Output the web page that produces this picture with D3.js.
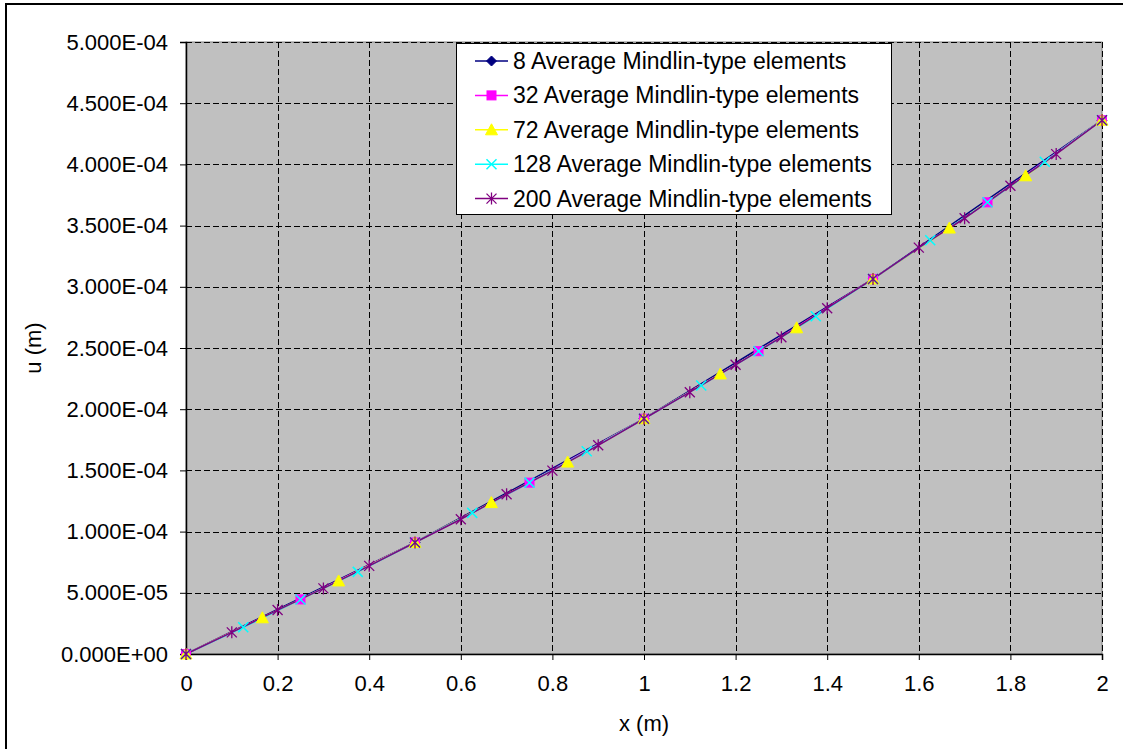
<!DOCTYPE html>
<html>
<head>
<meta charset="utf-8">
<script src="https://cdn.jsdelivr.net/npm/d3@7"></script>
<style>
  body { margin: 0; background: #fff; }
  svg { display: block; font-family: "Liberation Sans", Arial, sans-serif; }
</style>
</head>
<body>
<script>
// data
var seriesNames = [
  '8 Average Mindlin-type elements',
  '32 Average Mindlin-type elements',
  '72 Average Mindlin-type elements',
  '128 Average Mindlin-type elements',
  '200 Average Mindlin-type elements'
];

var x8 = [0, 0.5, 1, 1.5, 2];
var u8 = [0, 9.11e-5, 1.922e-4, 3.064e-4, 4.361e-4];

var x32 = [0, 0.25, 0.5, 0.75, 1, 1.25, 1.5, 1.75, 2];
var u32 = [0, 4.46e-5, 9.11e-5, 1.400e-4, 1.922e-4, 2.474e-4, 3.064e-4, 3.690e-4, 4.361e-4];

var x72 = [0, 0.1667, 0.3333, 0.5, 0.6667, 0.8333, 1, 1.1667, 1.3333, 1.5, 1.6667, 1.8333, 2];
var u72 = [0, 2.96e-5, 5.97e-5, 9.11e-5, 1.237e-4, 1.568e-4, 1.922e-4, 2.288e-4, 2.665e-4, 3.064e-4, 3.480e-4, 3.907e-4, 4.361e-4];

var x128 = [0, 0.125, 0.25, 0.375, 0.5, 0.625, 0.75, 0.875, 1, 1.125, 1.25, 1.375, 1.5, 1.625, 1.75, 1.875, 2];
var u128 = [0, 2.18e-5, 4.46e-5, 6.71e-5, 9.11e-5, 1.153e-4, 1.400e-4, 1.656e-4, 1.922e-4, 2.194e-4, 2.474e-4, 2.760e-4, 3.064e-4, 3.380e-4, 3.690e-4, 4.021e-4, 4.361e-4];

var x200 = [0, 0.1, 0.2, 0.3, 0.4, 0.5, 0.6, 0.7, 0.8, 0.9, 1, 1.1, 1.2, 1.3, 1.4, 1.5, 1.6, 1.7, 1.8, 1.9, 2];
var u200 = [0, 1.77e-5, 3.59e-5, 5.36e-5, 7.20e-5, 9.11e-5, 1.101e-4, 1.305e-4, 1.498e-4, 1.705e-4, 1.922e-4, 2.139e-4, 2.363e-4, 2.588e-4, 2.825e-4, 3.064e-4, 3.320e-4, 3.560e-4, 3.825e-4, 4.084e-4, 4.361e-4];

var xTickValues = [0, 0.2, 0.4, 0.6, 0.8, 1, 1.2, 1.4, 1.6, 1.8, 2];
var yTickValues = [0, 5e-5, 1e-4, 1.5e-4, 2e-4, 2.5e-4, 3e-4, 3.5e-4, 4e-4, 4.5e-4, 5e-4];

// ----------------------------------------------------------------------------
// styles per series
var seriesStyle = [
  { color: '#000080', symbol: 'diamond' },
  { color: '#FF00FF', symbol: 'square' },
  { color: '#FFFF00', symbol: 'triangle' },
  { color: '#00FFFF', symbol: 'cross' },
  { color: '#800080', symbol: 'star' }
];

var seriesData = [
  [x8, u8], [x32, u32], [x72, u72], [x128, u128], [x200, u200]
].map(function ( pair, i ) {
  return {
    name: seriesNames[i],
    style: seriesStyle[i],
    points: pair[0].map(function ( x, j ) { return { x: x, u: pair[1][j] }; })
  };
});

var width = 1123, height = 749;
var plot = { left: 186, top: 42, right: 1102, bottom: 654 };
var fontSize = '22px';

var svg = d3.select('body').append('svg')
  .attr('width', width)
  .attr('height', height);

// chart area border
svg.append('rect')
  .attr('x', 6).attr('y', 4)
  .attr('width', 1140).attr('height', 780)
  .attr('fill', '#fff')
  .attr('stroke', '#000')
  .attr('stroke-width', 2);

var xScale = d3.scaleLinear().domain([0, 2]).range([plot.left, plot.right]);
var yScale = d3.scaleLinear().domain([0, 5e-4]).range([plot.bottom, plot.top]);

// plot area
svg.append('rect')
  .attr('x', plot.left).attr('y', plot.top)
  .attr('width', plot.right - plot.left)
  .attr('height', plot.bottom - plot.top)
  .attr('fill', '#C0C0C0')
  .attr('stroke', '#808080')
  .attr('stroke-width', 1);

// grid
var grid = svg.append('g')
  .attr('stroke', '#000')
  .attr('stroke-width', 1)
  .attr('stroke-dasharray', '6,3')
  .attr('shape-rendering', 'crispEdges');

grid.selectAll('line.vx')
  .data(xTickValues.slice(1))
  .enter().append('line')
  .attr('class', 'vx')
  .attr('x1', function ( d ) { return Math.round(xScale(d)) + 0.5; })
  .attr('x2', function ( d ) { return Math.round(xScale(d)) + 0.5; })
  .attr('y1', plot.top)
  .attr('y2', plot.bottom);

grid.selectAll('line.hy')
  .data(yTickValues.slice(1))
  .enter().append('line')
  .attr('class', 'hy')
  .attr('y1', function ( d ) { return Math.round(yScale(d)) + 0.5; })
  .attr('y2', function ( d ) { return Math.round(yScale(d)) + 0.5; })
  .attr('x1', plot.left)
  .attr('x2', plot.right);

// axes
function sciFormat ( d ) {
  var s = d.toExponential(3).toUpperCase();
  var parts = s.split('E');
  var sign = parts[1].charAt(0);
  var exp = parts[1].slice(1);
  if ( exp.length < 2 ) exp = '0' + exp;
  return parts[0] + 'E' + sign + exp;
}

var xAxis = d3.axisBottom(xScale)
  .tickValues(xTickValues)
  .tickSize(6)
  .tickPadding(15)
  .tickFormat(function ( d ) { return String(+d.toFixed(1)); });

var yAxis = d3.axisLeft(yScale)
  .tickValues(yTickValues)
  .tickSize(6)
  .tickPadding(12)
  .tickFormat(sciFormat);

var gx = svg.append('g')
  .attr('transform', 'translate(0,' + plot.bottom + ')')
  .call(xAxis);

var gy = svg.append('g')
  .attr('transform', 'translate(' + plot.left + ',0)')
  .call(yAxis);

[gx, gy].forEach(function ( g ) {
  g.selectAll('text')
    .style('font-family', '"Liberation Sans", Arial, sans-serif')
    .style('font-size', fontSize)
    .attr('fill', '#000');
  g.selectAll('line').attr('stroke', '#000');
  g.select('.domain').attr('stroke', '#000').attr('stroke-width', 1.5);
});

// axis titles
svg.append('text')
  .attr('x', (plot.left + plot.right) / 2)
  .attr('y', 731)
  .attr('text-anchor', 'middle')
  .style('font-size', fontSize)
  .text('x (m)');

svg.append('text')
  .attr('transform', 'translate(41,' + (plot.top + plot.bottom) / 2 + ') rotate(-90)')
  .attr('text-anchor', 'middle')
  .style('font-size', fontSize)
  .text('u (m)');

// markers
function drawMarker ( g, symbol, color, cx, cy ) {
  if ( symbol === 'diamond' ) {
    g.append('path')
      .attr('d', 'M' + cx + ',' + (cy - 5) + 'L' + (cx + 5) + ',' + cy +
        'L' + cx + ',' + (cy + 5) + 'L' + (cx - 5) + ',' + cy + 'Z')
      .attr('fill', color).attr('stroke', color);
  } else if ( symbol === 'square' ) {
    g.append('rect')
      .attr('x', cx - 4.5).attr('y', cy - 4.5)
      .attr('width', 9).attr('height', 9)
      .attr('fill', color).attr('stroke', color);
  } else if ( symbol === 'triangle' ) {
    g.append('path')
      .attr('d', 'M' + cx + ',' + (cy - 6) + 'L' + (cx + 6) + ',' + (cy + 5) +
        'L' + (cx - 6) + ',' + (cy + 5) + 'Z')
      .attr('fill', color).attr('stroke', color);
  } else if ( symbol === 'cross' ) {
    g.append('path')
      .attr('d', 'M' + (cx - 5) + ',' + (cy - 5) + 'L' + (cx + 5) + ',' + (cy + 5) +
        'M' + (cx + 5) + ',' + (cy - 5) + 'L' + (cx - 5) + ',' + (cy + 5))
      .attr('fill', 'none').attr('stroke', color).attr('stroke-width', 1.5);
  } else if ( symbol === 'star' ) {
    g.append('path')
      .attr('d', 'M' + (cx - 5) + ',' + (cy - 5) + 'L' + (cx + 5) + ',' + (cy + 5) +
        'M' + (cx + 5) + ',' + (cy - 5) + 'L' + (cx - 5) + ',' + (cy + 5) +
        'M' + cx + ',' + (cy - 6) + 'L' + cx + ',' + (cy + 6))
      .attr('fill', 'none').attr('stroke', color).attr('stroke-width', 1.3);
  }
}

var line = d3.line()
  .x(function ( d ) { return xScale(d.x); })
  .y(function ( d ) { return yScale(d.u); });

// lines first, then markers on top
svg.append('g').selectAll('path')
  .data(seriesData)
  .enter().append('path')
  .attr('d', function ( s ) { return line(s.points); })
  .attr('fill', 'none')
  .attr('stroke', function ( s ) { return s.style.color; })
  .attr('stroke-width', 1.5);

var markerGroups = svg.selectAll('g.markers')
  .data(seriesData)
  .enter().append('g')
  .attr('class', 'markers');

markerGroups.each(function ( s ) {
  var g = d3.select(this);
  s.points.forEach(function ( p ) {
    drawMarker(g, s.style.symbol, s.style.color, xScale(p.x), yScale(p.u));
  });
});

// legend
var legend = svg.append('g').attr('transform', 'translate(456,43)');

legend.append('rect')
  .attr('x', 0.5).attr('y', 0.5)
  .attr('width', 435).attr('height', 171)
  .attr('fill', '#fff')
  .attr('stroke', '#000')
  .attr('stroke-width', 1);

seriesData.forEach(function ( s, i ) {
  var cy = 18 + i * 34.4;
  var row = legend.append('g');
  row.append('line')
    .attr('x1', 19).attr('x2', 52)
    .attr('y1', cy).attr('y2', cy)
    .attr('stroke', s.style.color)
    .attr('stroke-width', 1.5);
  drawMarker(row, s.style.symbol, s.style.color, 35.5, cy);
  row.append('text')
    .attr('x', 57)
    .attr('y', cy + 8)
    .style('font-size', '23px')
    .text(s.name);
});
</script>
</body>
</html>
